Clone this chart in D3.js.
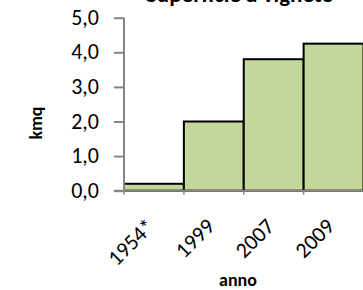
<!DOCTYPE html>
<html>
<head>
<meta charset="utf-8">
<script src="https://cdn.jsdelivr.net/npm/d3@7"></script>
<style>
  body { margin: 0; background: #fff; }
  text { font-family: Calibri, Carlito, Lato, "Open Sans", sans-serif; fill: #000; }
</style>
</head>
<body>
<script>
const W = 363;
const H = 290;

// data
const anni = ["1954*", "1999", "2007", "2009"];
const kmq = [0.2, 2.0, 3.8, 4.25];
const yTicks = [0, 1, 2, 3, 4, 5];
const titolo = "Superficie a vigneto";

const axisColor = "#868686";

const svg = d3.select("body")
    .append("svg")
    .attr("width", W)
    .attr("height", H);

let x = d3.scaleBand()
    .domain(anni)
    .range([124, 363.5])
    .padding(0);

let y = d3.scaleLinear()
    .domain([0, 5])
    .range([190.7, 17.7]);

// bars
svg.append("g")
    .selectAll("rect")
    .data(anni)
    .join("rect")
    .attr("x", d => x(d))
    .attr("y", (d, i) => y(kmq[i]))
    .attr("width", x.bandwidth())
    .attr("height", (d, i) => y(0) - y(kmq[i]))
    .attr("fill", "#c3d69b")
    .attr("stroke", "#000")
    .attr("stroke-width", 2);

// y axis
let yAxis = svg.append("g")
    .attr("transform", "translate(" + x.range()[0] + ",0)")
    .call(d3.axisLeft(y).tickValues(yTicks).tickSize(10).tickPadding(15)
        .tickFormat(d => d3.format(".1f")(d).replace(".", ",")));

yAxis.select(".domain").attr("stroke", axisColor).attr("stroke-width", 2)
    .attr("d", "M0," + y(5) + "V" + y(0));
yAxis.selectAll(".tick line").attr("stroke", axisColor).attr("stroke-width", 2);
yAxis.selectAll(".tick text")
    .style("font-size", "22px")
    .attr("dy", "0.3em");

// x axis
let xAxis = svg.append("g")
    .attr("transform", "translate(0," + y(0) + ")");

xAxis.append("line")
    .attr("x1", x.range()[0] - 10)
    .attr("x2", W)
    .attr("stroke", axisColor)
    .attr("stroke-width", 2);

// tick marks between categories
xAxis.selectAll(".xt")
    .data(anni)
    .join("line")
    .attr("class", "xt")
    .attr("x1", d => x(d))
    .attr("x2", d => x(d))
    .attr("y1", 0)
    .attr("y2", 4)
    .attr("stroke", axisColor)
    .attr("stroke-width", 1.5);

// rotated labels
xAxis.selectAll(".xl")
    .data(anni)
    .join("text")
    .attr("class", "xl")
    .attr("transform", d => "translate(" + (x(d) + x.bandwidth() / 2 + 2) + ",37) rotate(-45)")
    .attr("text-anchor", "end")
    .style("font-size", "22px")
    .text(d => d);

// axis titles
svg.append("text")
    .attr("x", 238)
    .attr("y", 286)
    .attr("text-anchor", "middle")
    .style("font-size", "18px")
    .style("font-weight", "bold")
    .text("anno");

svg.append("text")
    .attr("transform", "translate(42,123) rotate(-90)")
    .attr("text-anchor", "middle")
    .style("font-size", "18px")
    .style("font-weight", "bold")
    .text("kmq");

// title (cut at the top)
svg.append("text")
    .attr("x", 240)
    .attr("y", 2)
    .attr("text-anchor", "middle")
    .style("font-size", "23px")
    .style("font-weight", "bold")
    .text(titolo);
</script>
</body>
</html>
